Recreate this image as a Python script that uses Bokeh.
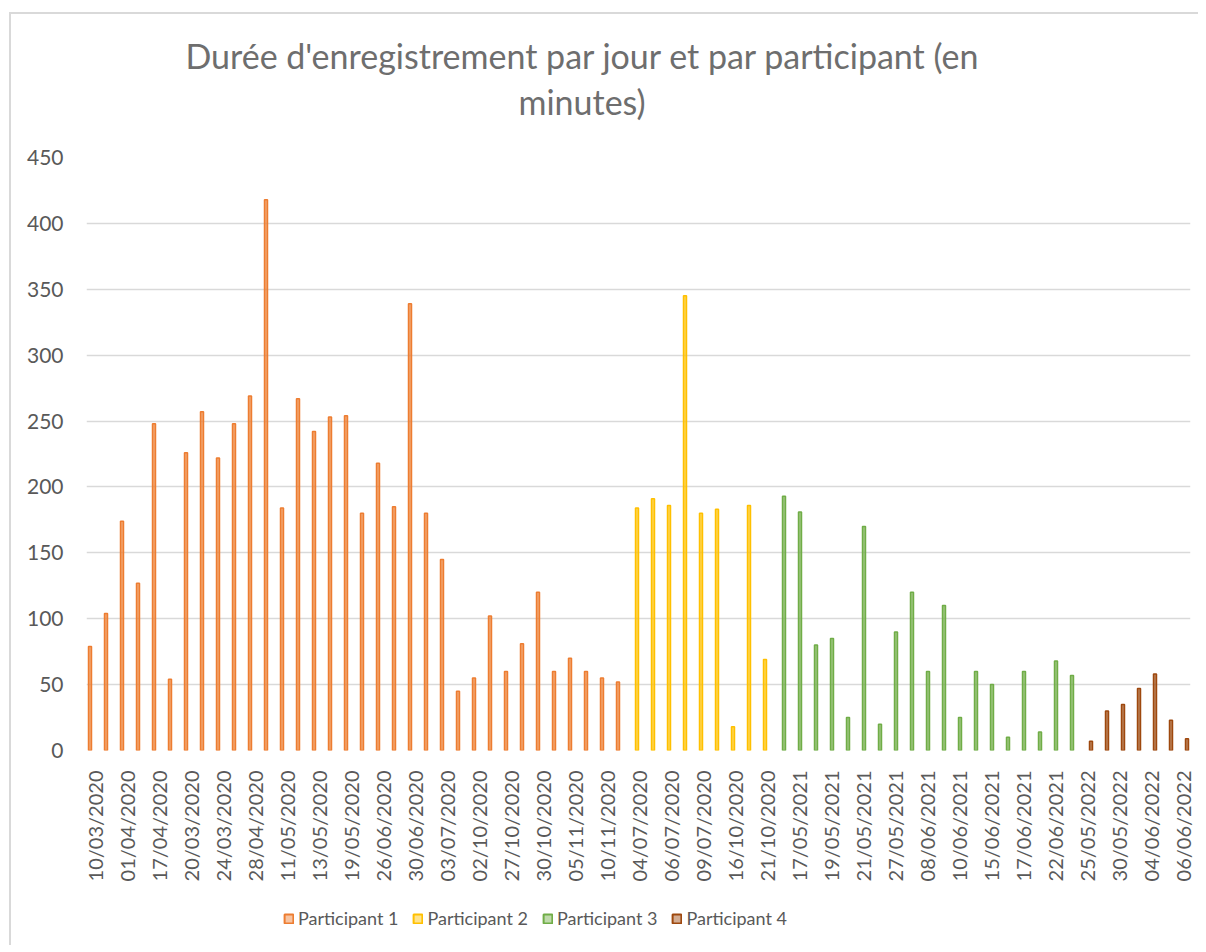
import math
from bokeh.plotting import figure
from bokeh.models import Range1d, FixedTicker, Legend, LegendItem, Title, ColumnDataSource
from bokeh.layouts import column
from bokeh.embed import file_html
from bokeh.resources import INLINE

# ---------------- data ----------------
title_line1 = "Durée d'enregistrement par jour et par participant (en"
title_line2 = "minutes)"

tick_labels = [
    "10/03/2020", "01/04/2020", "17/04/2020", "20/03/2020", "24/03/2020",
    "28/04/2020", "11/05/2020", "13/05/2020", "19/05/2020", "26/06/2020",
    "30/06/2020", "03/07/2020", "02/10/2020", "27/10/2020", "30/10/2020",
    "05/11/2020", "10/11/2020", "04/07/2020", "06/07/2020", "09/07/2020",
    "16/10/2020", "21/10/2020", "17/05/2021", "19/05/2021", "21/05/2021",
    "27/05/2021", "08/06/2021", "10/06/2021", "15/06/2021", "17/06/2021",
    "22/06/2021", "25/05/2022", "30/05/2022", "04/06/2022", "06/06/2022",
]

series_names = ["Participant 1", "Participant 2", "Participant 3", "Participant 4"]

participant1 = [79, 104, 174, 127, 248, 54, 226, 257, 222, 248, 269, 418, 184, 267,
                242, 253, 254, 180, 218, 185, 339, 180, 145, 45, 55, 102, 60, 81,
                120, 60, 70, 60, 55, 52]
participant2 = [184, 191, 186, 345, 180, 183, 18, 186, 69]
participant3 = [193, 181, 80, 85, 25, 170, 20, 90, 120, 60, 110, 25, 60, 50, 10,
                60, 14, 68, 57]
participant4 = [7, 30, 35, 47, 58, 23, 9]

all_series = [participant1, participant2, participant3, participant4]
line_colors = ["#ED7D31", "#FFC000", "#70AD47", "#9E480E"]

y_ticks = [0, 50, 100, 150, 200, 250, 300, 350, 400, 450]

# ---------------- main figure ----------------
n_total = sum(len(s) for s in all_series)
TEXT = "#595959"
FONT = "Lato"

p = figure(width=1187, height=876,
           x_range=Range1d(-0.5, n_total - 0.5), y_range=Range1d(0, 450),
           output_backend="svg", toolbar_location=None,
           min_border_left=75, min_border_right=8,
           min_border_top=143, min_border_bottom=140)
p.title.visible = False
p.outline_line_color = None
p.background_fill_color = "white"
p.border_fill_color = "white"

# x axis
p.xaxis.ticker = FixedTicker(ticks=list(range(0, n_total, 2)))
p.xaxis.major_label_overrides = {2 * i: lbl for i, lbl in enumerate(tick_labels)}
p.xaxis.major_label_orientation = math.pi / 2
p.xaxis.major_label_standoff = 14
p.xaxis.major_label_text_font = FONT
p.xaxis.major_label_text_font_size = "20px"
p.xaxis.major_label_text_color = TEXT
p.xaxis.axis_line_color = None
p.xaxis.major_tick_line_color = None
p.xaxis.minor_tick_line_color = None

# y axis
p.yaxis.ticker = FixedTicker(ticks=y_ticks)
p.yaxis.major_label_standoff = 17
p.yaxis.major_label_text_font = FONT
p.yaxis.major_label_text_font_size = "21px"
p.yaxis.major_label_text_color = TEXT
p.yaxis.axis_line_color = None
p.yaxis.major_tick_line_color = None
p.yaxis.minor_tick_line_color = None

p.xgrid.visible = False
p.ygrid.grid_line_color = "#d9d9d9"
p.ygrid.grid_line_width = 1.5

# bars (clustered: 4 slots per category)
slot = 0.1875
start = 0
for k, (vals, col) in enumerate(zip(all_series, line_colors)):
    xs = [start + j + (k - 1.5) * slot for j in range(len(vals))]
    src = ColumnDataSource(data=dict(x=xs, top=vals))
    p.vbar(x="x", top="top", bottom=0, width=slot, source=src,
           fill_color=col, fill_alpha=0.7,
           line_color=col, line_width=1.5)
    start += len(vals)

# title (two lines, stacked from the frame upwards; first one is a spacer)
p.add_layout(Title(text=" ", text_font_size="1px", standoff=33), "above")
p.add_layout(Title(text=title_line2, align="left", offset=432, standoff=0,
                   text_font=FONT, text_font_size="34px", text_font_style="normal",
                   text_color="#6e6e6e"), "above")
p.add_layout(Title(text=title_line1, align="left", offset=99, standoff=6,
                   text_font=FONT, text_font_size="34px", text_font_style="normal",
                   text_color="#6e6e6e"), "above")

# ---------------- legend strip ----------------
lg = figure(width=1187, height=55, x_range=Range1d(-0.5, n_total - 0.5),
            y_range=Range1d(0, 450),
            output_backend="svg", toolbar_location=None,
            x_axis_location=None, y_axis_location=None,
            min_border_left=0, min_border_right=0,
            min_border_top=0, min_border_bottom=0)
lg.title.visible = False
lg.outline_line_color = None
lg.xgrid.visible = False
lg.ygrid.visible = False

items = []
nan = float("nan")
for col, name in zip(line_colors, series_names):
    # legend swatch proxy: no drawable bar (NaN), only its style is used
    r = lg.vbar(x=[nan], top=[nan], bottom=0, width=slot,
                fill_color=col, fill_alpha=0.45, line_color=col, line_width=2)
    items.append(LegendItem(label=name, renderers=[r]))

legend = Legend(items=items, orientation="horizontal", location=(197, 16),
                glyph_width=11, glyph_height=11, label_standoff=4, spacing=14,
                padding=0, margin=0, border_line_color=None,
                background_fill_alpha=0,
                label_text_font=FONT, label_text_font_size="18px",
                label_text_color=TEXT)
lg.add_layout(legend)

layout = column(p, lg, spacing=0,
                styles={"border-top": "2px solid #d9d9d9",
                        "border-left": "2px solid #d9d9d9",
                        "margin-left": "9px", "margin-top": "12px"})

open("out.html", "w").write(file_html(layout, INLINE))
